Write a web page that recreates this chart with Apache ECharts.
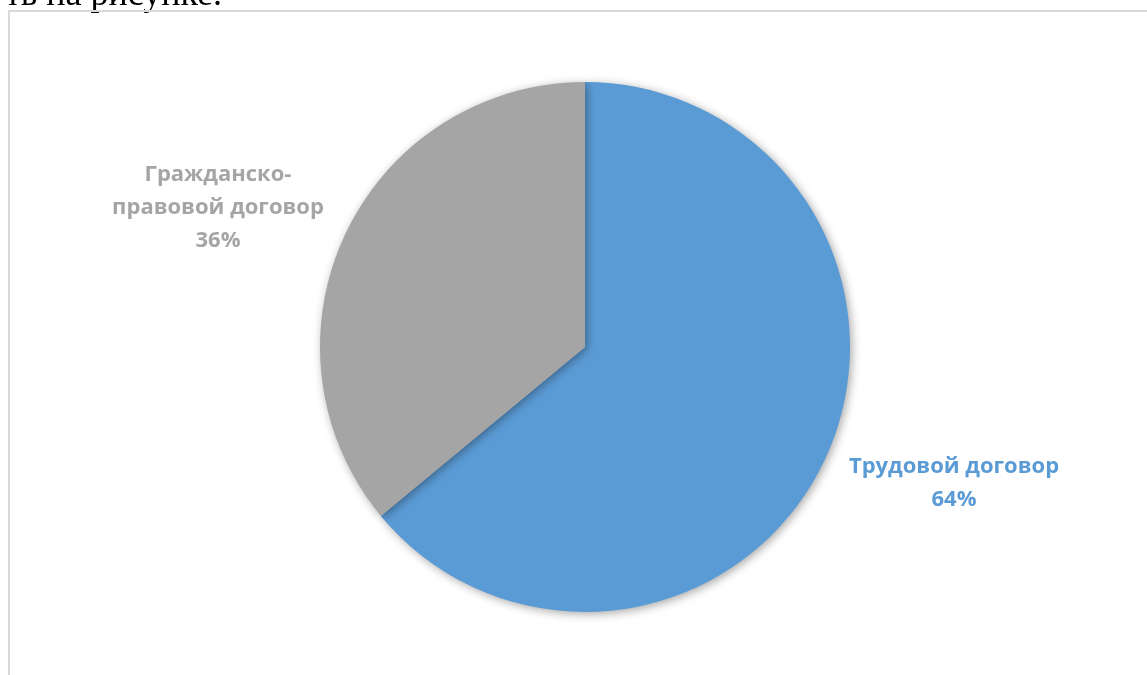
<!DOCTYPE html>
<html>
<head>
<meta charset="utf-8">
<script src="https://cdn.jsdelivr.net/npm/echarts@6/dist/echarts.min.js"></script>
<style>
  html, body { margin: 0; padding: 0; background: #fff; }
  #chart { width: 1147px; height: 675px; }
</style>
</head>
<body>
<div id="chart"></div>
<script>
// данные диаграммы
const categories = ['Трудовой договор', 'Гражданско-\nправовой договор']
const shares = [64, 36]
const colors = ['#5B9BD5', '#A5A5A5']

const chart = echarts.init(document.getElementById('chart'))

const labelPos = [
  { x: 954, y: 483 },
  { x: 218, y: 208 }
]

chart.setOption({
  animation: false,
  graphic: [
    {
      type: 'text',
      style: {
        x: 222, y: -22,
        text: 'ть на рисунке.',
        font: '36px "Liberation Serif", serif',
        fill: '#000',
        align: 'right',
        verticalAlign: 'top'
      }
    },
    {
      type: 'polyline',
      shape: { points: [[9, 700], [9, 11], [1160, 11]] },
      style: { stroke: '#d9d9d9', lineWidth: 2, fill: null }
    }
  ],
  series: [
    {
      type: 'pie',
      center: [585, 347],
      radius: [0, 265],
      startAngle: 90,
      clockwise: true,
      data: categories.map((name, i) => ({
        name: name,
        value: shares[i],
        itemStyle: { color: colors[i] },
        label: { color: colors[i] }
      })),
      itemStyle: {
        shadowBlur: 10,
        shadowColor: 'rgba(0,0,0,0.35)',
        shadowOffsetX: 2,
        shadowOffsetY: 2
      },
      label: {
        show: true,
        position: 'outside',
        formatter: p => p.name + '\n' + p.value + '%',
        fontFamily: '"Open Sans", sans-serif',
        fontWeight: 'bold',
        fontSize: 22,
        lineHeight: 33,
        align: 'center'
      },
      labelLine: { show: false },
      labelLayout: function (params) {
        const p = labelPos[params.dataIndex]
        return { x: p.x, y: p.y, align: 'center', verticalAlign: 'middle' }
      }
    }
  ]
})
</script>
</body>
</html>
